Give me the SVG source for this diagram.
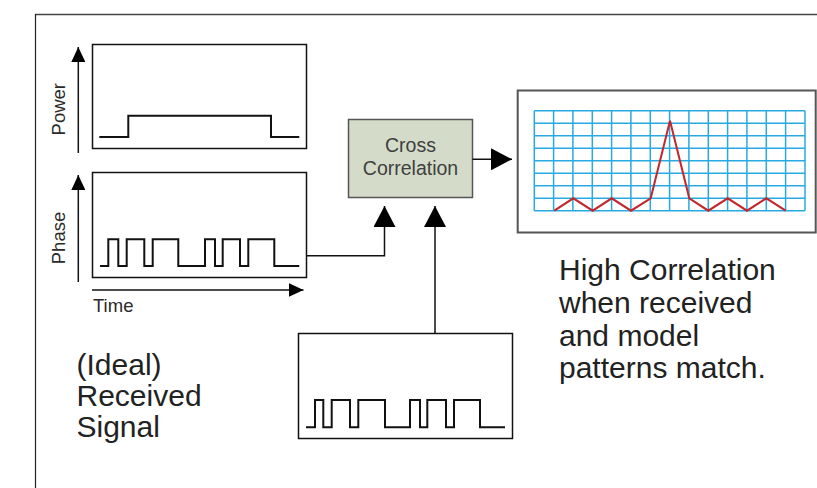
<svg xmlns="http://www.w3.org/2000/svg" width="817" height="488" viewBox="0 0 817 488">
  <style>
    .frame { fill: #fff; stroke: #111; stroke-width: 1.5; }
    .sig { fill: none; stroke: #111; stroke-width: 2; }
    .wire { fill: none; stroke: #111; stroke-width: 1.5; }
    .axis { fill: none; stroke: #111; stroke-width: 1.5; }
    .grid { fill: none; stroke: #29a9e1; stroke-width: 1.5; }
    .axis-label { font-family: "Liberation Sans", Arial, sans-serif; font-size: 18.5px; fill: #2a2a2a; }
    .big-label { font-family: "Liberation Sans", Arial, sans-serif; font-size: 30px; fill: #222; }
    .box-label { font-family: "Liberation Sans", Arial, sans-serif; font-size: 19.5px; fill: #404040; text-anchor: middle; }
  </style>
  <defs>
    <marker id="head-big" markerUnits="userSpaceOnUse" viewBox="0 0 21 22" markerWidth="21" markerHeight="22" refX="21" refY="11" orient="auto">
      <path d="M0,0 L21,11 L0,22 Z" fill="#000"/>
    </marker>
    <marker id="head-small" markerUnits="userSpaceOnUse" viewBox="0 0 15 14" markerWidth="15" markerHeight="14" refX="15" refY="7" orient="auto">
      <path d="M0,0 L15,7 L0,14 Z" fill="#000"/>
    </marker>
  </defs>

  <rect width="817" height="488" fill="#fff"/>

  <!-- outer border -->
  <g id="border">
    <line x1="35" y1="14.5" x2="817" y2="14.5" stroke="#444" stroke-width="1.6"/>
    <line x1="35.5" y1="14" x2="35.5" y2="488" stroke="#222" stroke-width="1.2"/>
  </g>

  <!-- power vs time plot -->
  <g id="power-plot">
    <rect class="frame" x="92.5" y="44.5" width="214" height="104"/>
    <path class="sig" d="M99.3,137 H128.3 V115.7 H271 V137 H299.3"/>
    <line class="axis" x1="78.3" y1="153" x2="78.3" y2="47" marker-end="url(#head-small)"/>
    <text class="axis-label" text-anchor="middle" transform="translate(64.5,109.2) rotate(-90)">Power</text>
  </g>

  <!-- phase vs time plot -->
  <g id="phase-plot">
    <rect class="frame" x="92.5" y="172.5" width="214" height="105"/>
    <path class="sig" d="M100,266 H108.3 V239.3 H118.3 V266 H126.7 V239.3 H144.3 V266 H152.7 V239.3 H178.3 V266 H205 V239.3 H215 V266 H222.7 V239.3 H240 V266 H248.3 V239.3 H274.3 V266 H299.3"/>
    <line class="axis" x1="78.3" y1="282" x2="78.3" y2="175" marker-end="url(#head-small)"/>
    <line class="axis" x1="92" y1="290" x2="303.5" y2="290" marker-end="url(#head-small)"/>
    <text class="axis-label" text-anchor="middle" transform="translate(64.5,238) rotate(-90)">Phase</text>
    <text class="axis-label" x="93" y="311.5">Time</text>
  </g>

  <!-- received signal caption -->
  <g id="received-caption">
    <text class="big-label" x="76.5" y="375">(Ideal)</text>
    <text class="big-label" x="76.5" y="406">Received</text>
    <text class="big-label" x="76.5" y="436.5">Signal</text>
  </g>

  <!-- cross correlation block -->
  <g id="cross-correlation">
    <rect x="348.5" y="119.5" width="124" height="78" fill="#d4dcc9" stroke="#555" stroke-width="1.5"/>
    <text class="box-label" x="410.5" y="151.5">Cross</text>
    <text class="box-label" x="410.5" y="175">Correlation</text>
  </g>

  <!-- correlation output display -->
  <g id="correlation-display">
    <rect x="517.7" y="90.5" width="298" height="142" fill="#fff" stroke="#555" stroke-width="2"/>
    <path class="grid" d="M534.3,110.7 V210.7 M553.6,110.7 V210.7 M572.9,110.7 V210.7 M592.3,110.7 V210.7 M611.6,110.7 V210.7 M630.9,110.7 V210.7 M650.3,110.7 V210.7 M669.6,110.7 V210.7 M688.9,110.7 V210.7 M708.3,110.7 V210.7 M727.6,110.7 V210.7 M746.9,110.7 V210.7 M766.3,110.7 V210.7 M785.6,110.7 V210.7 M805,110.7 V210.7 M534.3,110.7 H805 M534.3,123.2 H805 M534.3,135.7 H805 M534.3,148.2 H805 M534.3,160.7 H805 M534.3,173.2 H805 M534.3,185.7 H805 M534.3,198.2 H805 M534.3,210.7 H805"/>
    <polyline points="554.3,210.7 573.3,198.3 592.7,210.7 611.7,198.3 631,210.7 650.7,198.3 670,120.7 689.3,198.3 708.3,210.7 727.7,198.3 747,210.7 766.3,198.3 785.7,210.7" fill="none" stroke="#c1272d" stroke-width="2" stroke-linejoin="miter"/>
  </g>

  <!-- result caption -->
  <g id="result-caption">
    <text class="big-label" x="559" y="280">High Correlation</text>
    <text class="big-label" x="559" y="313">when received</text>
    <text class="big-label" x="559" y="345.5">and model</text>
    <text class="big-label" x="559" y="378">patterns match.</text>
  </g>

  <!-- model signal -->
  <g id="model-signal">
    <rect class="frame" x="298.5" y="333.5" width="214" height="105"/>
    <path class="sig" d="M306,427.3 H315 V400 H323.3 V427.3 H331.7 V400 H350 V427.3 H358.3 V400 H385 V427.3 H410 V400 H420 V427.3 H427.3 V400 H446 V427.3 H454 V400 H480 V427.3 H505"/>
  </g>

  <!-- connectors -->
  <g id="connectors">
    <path class="wire" d="M306.5,255.7 H384.5 V206" marker-end="url(#head-big)"/>
    <path class="wire" d="M435,333.5 V206" marker-end="url(#head-big)"/>
    <path class="wire" d="M472.5,159.3 H512" marker-end="url(#head-big)"/>
  </g>
</svg>
